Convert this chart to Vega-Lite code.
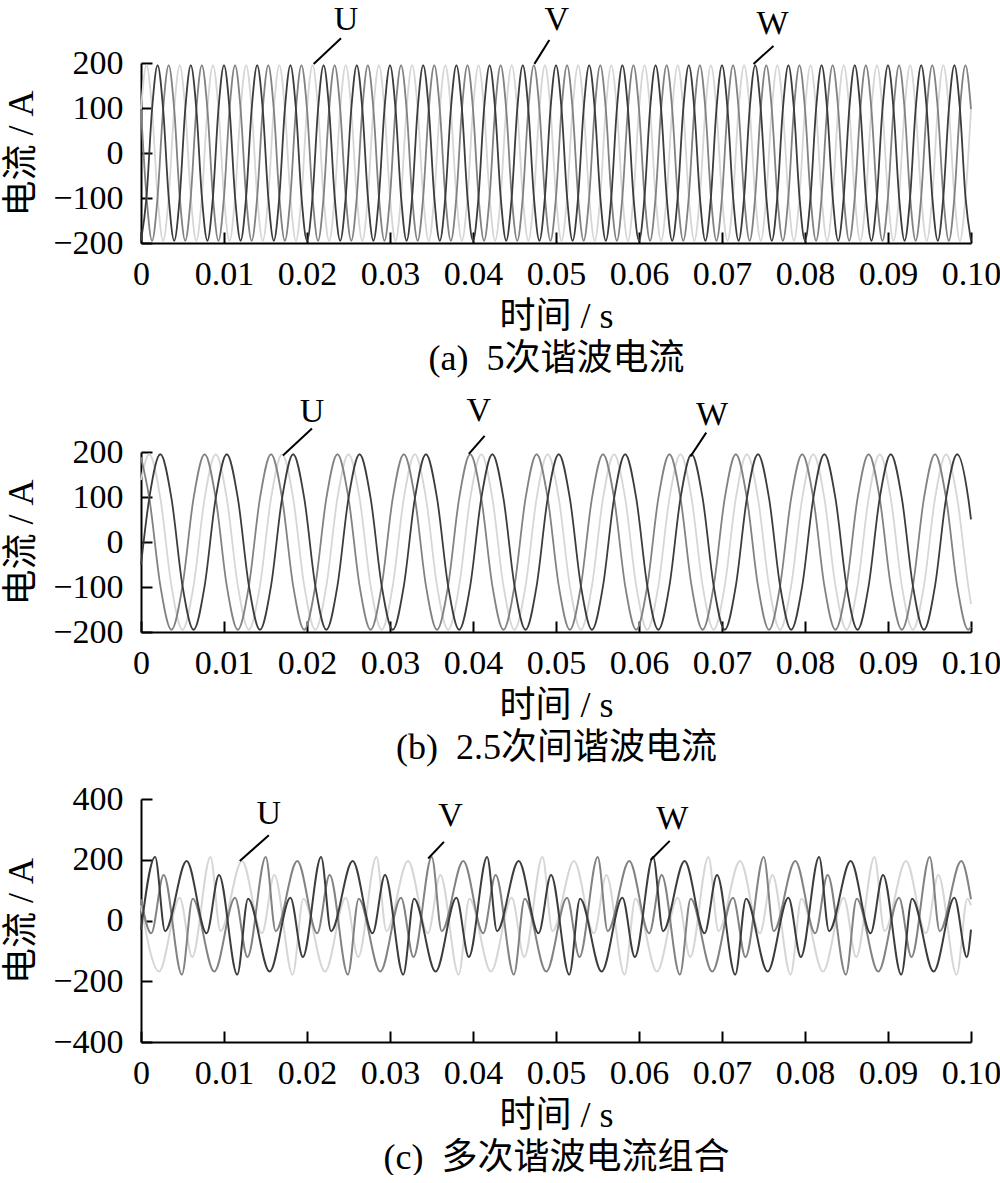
{
"$schema": "https://vega.github.io/schema/vega-lite/v6.json",
"padding": {"left": 3, "top": 2, "right": 0, "bottom": 0},
"background": "white",
"spacing": 17,
"config": {
  "view": {"stroke": null},
  "font": "Liberation Serif",
  "axis": {"grid": false, "domainColor": "black", "domainWidth": 2, "tickColor": "black", "tickWidth": 2, "tickSize": -11,
    "labelFont": "Liberation Serif", "labelFontSize": 34, "labelColor": "black", "labelOverlap": false, "labelFlush": false,
    "titleFont": "Liberation Serif, Noto Sans CJK SC", "titleFontSize": 36, "titleFontWeight": "normal", "titleColor": "black", "titleLineHeight": 42},
  "axisX": {"labelPadding": 25, "titlePadding": 8, "labelAngle": 0},
  "axisY": {"labelPadding": 29, "titlePadding": 12}
},
"vconcat": [
{
  "width": 830, "height": 180,
  "layer": [
    {
      "data": {"values": [
{"t":0,"U":97.5,"V":97.5,"W":-195},{"t":0.000667,"U":195,"V":-97.5,"W":-97.5},{"t":0.001333,"U":97.5,"V":-195,"W":97.5},{"t":0.002,"U":-97.5,"V":-97.5,"W":195},{"t":0.002667,"U":-195,"V":97.5,"W":97.5},{"t":0.003333,"U":-97.5,"V":195,"W":-97.5},
{"t":0.004,"U":97.5,"V":97.5,"W":-195},{"t":0.004667,"U":195,"V":-97.5,"W":-97.5},{"t":0.005333,"U":97.5,"V":-195,"W":97.5},{"t":0.006,"U":-97.5,"V":-97.5,"W":195},{"t":0.006667,"U":-195,"V":97.5,"W":97.5},{"t":0.007333,"U":-97.5,"V":195,"W":-97.5},
{"t":0.008,"U":97.5,"V":97.5,"W":-195},{"t":0.008667,"U":195,"V":-97.5,"W":-97.5},{"t":0.009333,"U":97.5,"V":-195,"W":97.5},{"t":0.01,"U":-97.5,"V":-97.5,"W":195},{"t":0.010667,"U":-195,"V":97.5,"W":97.5},{"t":0.011333,"U":-97.5,"V":195,"W":-97.5},
{"t":0.012,"U":97.5,"V":97.5,"W":-195},{"t":0.012667,"U":195,"V":-97.5,"W":-97.5},{"t":0.013333,"U":97.5,"V":-195,"W":97.5},{"t":0.014,"U":-97.5,"V":-97.5,"W":195},{"t":0.014667,"U":-195,"V":97.5,"W":97.5},{"t":0.015333,"U":-97.5,"V":195,"W":-97.5},
{"t":0.016,"U":97.5,"V":97.5,"W":-195},{"t":0.016667,"U":195,"V":-97.5,"W":-97.5},{"t":0.017333,"U":97.5,"V":-195,"W":97.5},{"t":0.018,"U":-97.5,"V":-97.5,"W":195},{"t":0.018667,"U":-195,"V":97.5,"W":97.5},{"t":0.019333,"U":-97.5,"V":195,"W":-97.5},
{"t":0.02,"U":97.5,"V":97.5,"W":-195},{"t":0.020667,"U":195,"V":-97.5,"W":-97.5},{"t":0.021333,"U":97.5,"V":-195,"W":97.5},{"t":0.022,"U":-97.5,"V":-97.5,"W":195},{"t":0.022667,"U":-195,"V":97.5,"W":97.5},{"t":0.023333,"U":-97.5,"V":195,"W":-97.5},
{"t":0.024,"U":97.5,"V":97.5,"W":-195},{"t":0.024667,"U":195,"V":-97.5,"W":-97.5},{"t":0.025333,"U":97.5,"V":-195,"W":97.5},{"t":0.026,"U":-97.5,"V":-97.5,"W":195},{"t":0.026667,"U":-195,"V":97.5,"W":97.5},{"t":0.027333,"U":-97.5,"V":195,"W":-97.5},
{"t":0.028,"U":97.5,"V":97.5,"W":-195},{"t":0.028667,"U":195,"V":-97.5,"W":-97.5},{"t":0.029333,"U":97.5,"V":-195,"W":97.5},{"t":0.03,"U":-97.5,"V":-97.5,"W":195},{"t":0.030667,"U":-195,"V":97.5,"W":97.5},{"t":0.031333,"U":-97.5,"V":195,"W":-97.5},
{"t":0.032,"U":97.5,"V":97.5,"W":-195},{"t":0.032667,"U":195,"V":-97.5,"W":-97.5},{"t":0.033333,"U":97.5,"V":-195,"W":97.5},{"t":0.034,"U":-97.5,"V":-97.5,"W":195},{"t":0.034667,"U":-195,"V":97.5,"W":97.5},{"t":0.035333,"U":-97.5,"V":195,"W":-97.5},
{"t":0.036,"U":97.5,"V":97.5,"W":-195},{"t":0.036667,"U":195,"V":-97.5,"W":-97.5},{"t":0.037333,"U":97.5,"V":-195,"W":97.5},{"t":0.038,"U":-97.5,"V":-97.5,"W":195},{"t":0.038667,"U":-195,"V":97.5,"W":97.5},{"t":0.039333,"U":-97.5,"V":195,"W":-97.5},
{"t":0.04,"U":97.5,"V":97.5,"W":-195},{"t":0.040667,"U":195,"V":-97.5,"W":-97.5},{"t":0.041333,"U":97.5,"V":-195,"W":97.5},{"t":0.042,"U":-97.5,"V":-97.5,"W":195},{"t":0.042667,"U":-195,"V":97.5,"W":97.5},{"t":0.043333,"U":-97.5,"V":195,"W":-97.5},
{"t":0.044,"U":97.5,"V":97.5,"W":-195},{"t":0.044667,"U":195,"V":-97.5,"W":-97.5},{"t":0.045333,"U":97.5,"V":-195,"W":97.5},{"t":0.046,"U":-97.5,"V":-97.5,"W":195},{"t":0.046667,"U":-195,"V":97.5,"W":97.5},{"t":0.047333,"U":-97.5,"V":195,"W":-97.5},
{"t":0.048,"U":97.5,"V":97.5,"W":-195},{"t":0.048667,"U":195,"V":-97.5,"W":-97.5},{"t":0.049333,"U":97.5,"V":-195,"W":97.5},{"t":0.05,"U":-97.5,"V":-97.5,"W":195},{"t":0.050667,"U":-195,"V":97.5,"W":97.5},{"t":0.051333,"U":-97.5,"V":195,"W":-97.5},
{"t":0.052,"U":97.5,"V":97.5,"W":-195},{"t":0.052667,"U":195,"V":-97.5,"W":-97.5},{"t":0.053333,"U":97.5,"V":-195,"W":97.5},{"t":0.054,"U":-97.5,"V":-97.5,"W":195},{"t":0.054667,"U":-195,"V":97.5,"W":97.5},{"t":0.055333,"U":-97.5,"V":195,"W":-97.5},
{"t":0.056,"U":97.5,"V":97.5,"W":-195},{"t":0.056667,"U":195,"V":-97.5,"W":-97.5},{"t":0.057333,"U":97.5,"V":-195,"W":97.5},{"t":0.058,"U":-97.5,"V":-97.5,"W":195},{"t":0.058667,"U":-195,"V":97.5,"W":97.5},{"t":0.059333,"U":-97.5,"V":195,"W":-97.5},
{"t":0.06,"U":97.5,"V":97.5,"W":-195},{"t":0.060667,"U":195,"V":-97.5,"W":-97.5},{"t":0.061333,"U":97.5,"V":-195,"W":97.5},{"t":0.062,"U":-97.5,"V":-97.5,"W":195},{"t":0.062667,"U":-195,"V":97.5,"W":97.5},{"t":0.063333,"U":-97.5,"V":195,"W":-97.5},
{"t":0.064,"U":97.5,"V":97.5,"W":-195},{"t":0.064667,"U":195,"V":-97.5,"W":-97.5},{"t":0.065333,"U":97.5,"V":-195,"W":97.5},{"t":0.066,"U":-97.5,"V":-97.5,"W":195},{"t":0.066667,"U":-195,"V":97.5,"W":97.5},{"t":0.067333,"U":-97.5,"V":195,"W":-97.5},
{"t":0.068,"U":97.5,"V":97.5,"W":-195},{"t":0.068667,"U":195,"V":-97.5,"W":-97.5},{"t":0.069333,"U":97.5,"V":-195,"W":97.5},{"t":0.07,"U":-97.5,"V":-97.5,"W":195},{"t":0.070667,"U":-195,"V":97.5,"W":97.5},{"t":0.071333,"U":-97.5,"V":195,"W":-97.5},
{"t":0.072,"U":97.5,"V":97.5,"W":-195},{"t":0.072667,"U":195,"V":-97.5,"W":-97.5},{"t":0.073333,"U":97.5,"V":-195,"W":97.5},{"t":0.074,"U":-97.5,"V":-97.5,"W":195},{"t":0.074667,"U":-195,"V":97.5,"W":97.5},{"t":0.075333,"U":-97.5,"V":195,"W":-97.5},
{"t":0.076,"U":97.5,"V":97.5,"W":-195},{"t":0.076667,"U":195,"V":-97.5,"W":-97.5},{"t":0.077333,"U":97.5,"V":-195,"W":97.5},{"t":0.078,"U":-97.5,"V":-97.5,"W":195},{"t":0.078667,"U":-195,"V":97.5,"W":97.5},{"t":0.079333,"U":-97.5,"V":195,"W":-97.5},
{"t":0.08,"U":97.5,"V":97.5,"W":-195},{"t":0.080667,"U":195,"V":-97.5,"W":-97.5},{"t":0.081333,"U":97.5,"V":-195,"W":97.5},{"t":0.082,"U":-97.5,"V":-97.5,"W":195},{"t":0.082667,"U":-195,"V":97.5,"W":97.5},{"t":0.083333,"U":-97.5,"V":195,"W":-97.5},
{"t":0.084,"U":97.5,"V":97.5,"W":-195},{"t":0.084667,"U":195,"V":-97.5,"W":-97.5},{"t":0.085333,"U":97.5,"V":-195,"W":97.5},{"t":0.086,"U":-97.5,"V":-97.5,"W":195},{"t":0.086667,"U":-195,"V":97.5,"W":97.5},{"t":0.087333,"U":-97.5,"V":195,"W":-97.5},
{"t":0.088,"U":97.5,"V":97.5,"W":-195},{"t":0.088667,"U":195,"V":-97.5,"W":-97.5},{"t":0.089333,"U":97.5,"V":-195,"W":97.5},{"t":0.09,"U":-97.5,"V":-97.5,"W":195},{"t":0.090667,"U":-195,"V":97.5,"W":97.5},{"t":0.091333,"U":-97.5,"V":195,"W":-97.5},
{"t":0.092,"U":97.5,"V":97.5,"W":-195},{"t":0.092667,"U":195,"V":-97.5,"W":-97.5},{"t":0.093333,"U":97.5,"V":-195,"W":97.5},{"t":0.094,"U":-97.5,"V":-97.5,"W":195},{"t":0.094667,"U":-195,"V":97.5,"W":97.5},{"t":0.095333,"U":-97.5,"V":195,"W":-97.5},
{"t":0.096,"U":97.5,"V":97.5,"W":-195},{"t":0.096667,"U":195,"V":-97.5,"W":-97.5},{"t":0.097333,"U":97.5,"V":-195,"W":97.5},{"t":0.098,"U":-97.5,"V":-97.5,"W":195},{"t":0.098667,"U":-195,"V":97.5,"W":97.5},{"t":0.099333,"U":-97.5,"V":195,"W":-97.5},
{"t":0.1,"U":97.5,"V":97.5,"W":-195}
      ]},
      "transform": [{"fold": ["U","V","W"], "as": ["p","v"]}],
      "mark": {"type": "line", "interpolate": "monotone", "strokeWidth": 1.8},
      "encoding": {
        "x": {"field": "t", "type": "quantitative", "scale": {"domain": [0, 0.1], "nice": false},
          "axis": {"values": [0,0.01,0.02,0.03,0.04,0.05,0.06,0.07,0.08,0.09,0.1], "labelExpr": "datum.value == 0 ? '0' : format(datum.value, '.2f')", "title": ["时间 / s", "(a)\u00a0 5次谐波电流"]}},
        "y": {"field": "v", "type": "quantitative", "scale": {"domain": [-200, 200], "nice": false},
          "axis": {"values": [-200,-100,0,100,200], "title": "电流 / A"}},
        "color": {"field": "p", "type": "nominal", "scale": {"domain": ["U","V","W"], "range": ["#d6d6d6","#828282","#3c3c3c"]}, "legend": null}
      }
    },
    {
      "data": {"values": [
        {"t1":0.0241,"v1":255,"t2":0.0208,"v2":198},
        {"t1":0.0492,"v1":251,"t2":0.0474,"v2":198},
        {"t1":0.0762,"v1":238,"t2":0.0738,"v2":198}
      ]},
      "mark": {"type": "rule", "strokeWidth": 2, "color": "black"},
      "encoding": {
        "x": {"field": "t1", "type": "quantitative", "scale": {"domain": [0, 0.1], "nice": false}},
        "y": {"field": "v1", "type": "quantitative", "scale": {"domain": [-200, 200], "nice": false}},
        "x2": {"field": "t2"}, "y2": {"field": "v2"}
      }
    },
    {
      "data": {"values": [
        {"t":0.0247,"v":296,"label":"U"},
        {"t":0.0501,"v":295,"label":"V"},
        {"t":0.0761,"v":286,"label":"W"}
      ]},
      "mark": {"type": "text", "fontSize": 34, "font": "Liberation Serif", "color": "black", "align": "center", "baseline": "middle"},
      "encoding": {
        "x": {"field": "t", "type": "quantitative", "scale": {"domain": [0, 0.1], "nice": false}},
        "y": {"field": "v", "type": "quantitative", "scale": {"domain": [-200, 200], "nice": false}},
        "text": {"field": "label"}
      }
    }
  ]
},
{
  "width": 830, "height": 180,
  "layer": [
    {
      "data": {"values": [
{"t":0,"U":137.9,"V":188.4,"W":-50.5},
{"t":0.001,"U":195,"V":97.5,"W":97.5},{"t":0.002333,"U":97.5,"V":-97.5,"W":195},{"t":0.003667,"U":-97.5,"V":-195,"W":97.5},{"t":0.005,"U":-195,"V":-97.5,"W":-97.5},{"t":0.006333,"U":-97.5,"V":97.5,"W":-195},{"t":0.007667,"U":97.5,"V":195,"W":-97.5},
{"t":0.009,"U":195,"V":97.5,"W":97.5},{"t":0.010333,"U":97.5,"V":-97.5,"W":195},{"t":0.011667,"U":-97.5,"V":-195,"W":97.5},{"t":0.013,"U":-195,"V":-97.5,"W":-97.5},{"t":0.014333,"U":-97.5,"V":97.5,"W":-195},{"t":0.015667,"U":97.5,"V":195,"W":-97.5},
{"t":0.017,"U":195,"V":97.5,"W":97.5},{"t":0.018333,"U":97.5,"V":-97.5,"W":195},{"t":0.019667,"U":-97.5,"V":-195,"W":97.5},{"t":0.021,"U":-195,"V":-97.5,"W":-97.5},{"t":0.022333,"U":-97.5,"V":97.5,"W":-195},{"t":0.023667,"U":97.5,"V":195,"W":-97.5},
{"t":0.025,"U":195,"V":97.5,"W":97.5},{"t":0.026333,"U":97.5,"V":-97.5,"W":195},{"t":0.027667,"U":-97.5,"V":-195,"W":97.5},{"t":0.029,"U":-195,"V":-97.5,"W":-97.5},{"t":0.030333,"U":-97.5,"V":97.5,"W":-195},{"t":0.031667,"U":97.5,"V":195,"W":-97.5},
{"t":0.033,"U":195,"V":97.5,"W":97.5},{"t":0.034333,"U":97.5,"V":-97.5,"W":195},{"t":0.035667,"U":-97.5,"V":-195,"W":97.5},{"t":0.037,"U":-195,"V":-97.5,"W":-97.5},{"t":0.038333,"U":-97.5,"V":97.5,"W":-195},{"t":0.039667,"U":97.5,"V":195,"W":-97.5},
{"t":0.041,"U":195,"V":97.5,"W":97.5},{"t":0.042333,"U":97.5,"V":-97.5,"W":195},{"t":0.043667,"U":-97.5,"V":-195,"W":97.5},{"t":0.045,"U":-195,"V":-97.5,"W":-97.5},{"t":0.046333,"U":-97.5,"V":97.5,"W":-195},{"t":0.047667,"U":97.5,"V":195,"W":-97.5},
{"t":0.049,"U":195,"V":97.5,"W":97.5},{"t":0.050333,"U":97.5,"V":-97.5,"W":195},{"t":0.051667,"U":-97.5,"V":-195,"W":97.5},{"t":0.053,"U":-195,"V":-97.5,"W":-97.5},{"t":0.054333,"U":-97.5,"V":97.5,"W":-195},{"t":0.055667,"U":97.5,"V":195,"W":-97.5},
{"t":0.057,"U":195,"V":97.5,"W":97.5},{"t":0.058333,"U":97.5,"V":-97.5,"W":195},{"t":0.059667,"U":-97.5,"V":-195,"W":97.5},{"t":0.061,"U":-195,"V":-97.5,"W":-97.5},{"t":0.062333,"U":-97.5,"V":97.5,"W":-195},{"t":0.063667,"U":97.5,"V":195,"W":-97.5},
{"t":0.065,"U":195,"V":97.5,"W":97.5},{"t":0.066333,"U":97.5,"V":-97.5,"W":195},{"t":0.067667,"U":-97.5,"V":-195,"W":97.5},{"t":0.069,"U":-195,"V":-97.5,"W":-97.5},{"t":0.070333,"U":-97.5,"V":97.5,"W":-195},{"t":0.071667,"U":97.5,"V":195,"W":-97.5},
{"t":0.073,"U":195,"V":97.5,"W":97.5},{"t":0.074333,"U":97.5,"V":-97.5,"W":195},{"t":0.075667,"U":-97.5,"V":-195,"W":97.5},{"t":0.077,"U":-195,"V":-97.5,"W":-97.5},{"t":0.078333,"U":-97.5,"V":97.5,"W":-195},{"t":0.079667,"U":97.5,"V":195,"W":-97.5},
{"t":0.081,"U":195,"V":97.5,"W":97.5},{"t":0.082333,"U":97.5,"V":-97.5,"W":195},{"t":0.083667,"U":-97.5,"V":-195,"W":97.5},{"t":0.085,"U":-195,"V":-97.5,"W":-97.5},{"t":0.086333,"U":-97.5,"V":97.5,"W":-195},{"t":0.087667,"U":97.5,"V":195,"W":-97.5},
{"t":0.089,"U":195,"V":97.5,"W":97.5},{"t":0.090333,"U":97.5,"V":-97.5,"W":195},{"t":0.091667,"U":-97.5,"V":-195,"W":97.5},{"t":0.093,"U":-195,"V":-97.5,"W":-97.5},{"t":0.094333,"U":-97.5,"V":97.5,"W":-195},{"t":0.095667,"U":97.5,"V":195,"W":-97.5},
{"t":0.097,"U":195,"V":97.5,"W":97.5},{"t":0.098333,"U":97.5,"V":-97.5,"W":195},{"t":0.099667,"U":-97.5,"V":-195,"W":97.5},
{"t":0.1,"U":-137.9,"V":-188.4,"W":50.5}
      ]},
      "transform": [{"fold": ["U","V","W"], "as": ["p","v"]}],
      "mark": {"type": "line", "interpolate": "monotone", "strokeWidth": 1.8},
      "encoding": {
        "x": {"field": "t", "type": "quantitative", "scale": {"domain": [0, 0.1], "nice": false},
          "axis": {"values": [0,0.01,0.02,0.03,0.04,0.05,0.06,0.07,0.08,0.09,0.1], "labelExpr": "datum.value == 0 ? '0' : format(datum.value, '.2f')", "title": ["时间 / s", "(b)\u00a0 2.5次间谐波电流"]}},
        "y": {"field": "v", "type": "quantitative", "scale": {"domain": [-200, 200], "nice": false},
          "axis": {"values": [-200,-100,0,100,200], "title": "电流 / A"}},
        "color": {"field": "p", "type": "nominal", "scale": {"domain": ["U","V","W"], "range": ["#d6d6d6","#828282","#3c3c3c"]}, "legend": null}
      }
    },
    {
      "data": {"values": [
        {"t1":0.0206,"v1":252,"t2":0.0171,"v2":192},
        {"t1":0.0414,"v1":236,"t2":0.0395,"v2":196},
        {"t1":0.0681,"v1":243,"t2":0.0662,"v2":190}
      ]},
      "mark": {"type": "rule", "strokeWidth": 2, "color": "black"},
      "encoding": {
        "x": {"field": "t1", "type": "quantitative", "scale": {"domain": [0, 0.1], "nice": false}},
        "y": {"field": "v1", "type": "quantitative", "scale": {"domain": [-200, 200], "nice": false}},
        "x2": {"field": "t2"}, "y2": {"field": "v2"}
      }
    },
    {
      "data": {"values": [
        {"t":0.0206,"v":289,"label":"U"},
        {"t":0.0407,"v":292,"label":"V"},
        {"t":0.0688,"v":283,"label":"W"}
      ]},
      "mark": {"type": "text", "fontSize": 34, "font": "Liberation Serif", "color": "black", "align": "center", "baseline": "middle"},
      "encoding": {
        "x": {"field": "t", "type": "quantitative", "scale": {"domain": [0, 0.1], "nice": false}},
        "y": {"field": "v", "type": "quantitative", "scale": {"domain": [-200, 200], "nice": false}},
        "text": {"field": "label"}
      }
    }
  ]
},
{
  "width": 830, "height": 243,
  "layer": [
    {
      "data": {"values": [
{"p":"U","t":0,"v":50},
{"p":"U","t":0.00217,"v":-168},{"p":"U","t":0.00467,"v":75},{"p":"U","t":0.00617,"v":-120},{"p":"U","t":0.00837,"v":209},{"p":"U","t":0.00957,"v":-35},{"p":"U","t":0.01217,"v":196},{"p":"U","t":0.01457,"v":-42},{"p":"U","t":0.01607,"v":150},{"p":"U","t":0.01827,"v":-178},{"p":"U","t":0.01957,"v":72},
{"p":"U","t":0.02217,"v":-168},{"p":"U","t":0.02467,"v":75},{"p":"U","t":0.02617,"v":-120},{"p":"U","t":0.02837,"v":209},{"p":"U","t":0.02957,"v":-35},{"p":"U","t":0.03217,"v":196},{"p":"U","t":0.03457,"v":-42},{"p":"U","t":0.03607,"v":150},{"p":"U","t":0.03827,"v":-178},{"p":"U","t":0.03957,"v":72},
{"p":"U","t":0.04217,"v":-168},{"p":"U","t":0.04467,"v":75},{"p":"U","t":0.04617,"v":-120},{"p":"U","t":0.04837,"v":209},{"p":"U","t":0.04957,"v":-35},{"p":"U","t":0.05217,"v":196},{"p":"U","t":0.05457,"v":-42},{"p":"U","t":0.05607,"v":150},{"p":"U","t":0.05827,"v":-178},{"p":"U","t":0.05957,"v":72},
{"p":"U","t":0.06217,"v":-168},{"p":"U","t":0.06467,"v":75},{"p":"U","t":0.06617,"v":-120},{"p":"U","t":0.06837,"v":209},{"p":"U","t":0.06957,"v":-35},{"p":"U","t":0.07217,"v":196},{"p":"U","t":0.07457,"v":-42},{"p":"U","t":0.07607,"v":150},{"p":"U","t":0.07827,"v":-178},{"p":"U","t":0.07957,"v":72},
{"p":"U","t":0.08217,"v":-168},{"p":"U","t":0.08467,"v":75},{"p":"U","t":0.08617,"v":-120},{"p":"U","t":0.08837,"v":209},{"p":"U","t":0.08957,"v":-35},{"p":"U","t":0.09217,"v":196},{"p":"U","t":0.09457,"v":-42},{"p":"U","t":0.09607,"v":150},{"p":"U","t":0.09827,"v":-178},{"p":"U","t":0.09957,"v":72},
{"p":"U","t":0.1,"v":50},
{"p":"V","t":0,"v":70},
{"p":"V","t":0.00123,"v":-42},{"p":"V","t":0.00273,"v":150},{"p":"V","t":0.00493,"v":-178},{"p":"V","t":0.00623,"v":72},{"p":"V","t":0.00883,"v":-168},{"p":"V","t":0.01133,"v":75},{"p":"V","t":0.01283,"v":-120},{"p":"V","t":0.01503,"v":209},{"p":"V","t":0.01623,"v":-35},{"p":"V","t":0.01883,"v":196},
{"p":"V","t":0.02123,"v":-42},{"p":"V","t":0.02273,"v":150},{"p":"V","t":0.02493,"v":-178},{"p":"V","t":0.02623,"v":72},{"p":"V","t":0.02883,"v":-168},{"p":"V","t":0.03133,"v":75},{"p":"V","t":0.03283,"v":-120},{"p":"V","t":0.03503,"v":209},{"p":"V","t":0.03623,"v":-35},{"p":"V","t":0.03883,"v":196},
{"p":"V","t":0.04123,"v":-42},{"p":"V","t":0.04273,"v":150},{"p":"V","t":0.04493,"v":-178},{"p":"V","t":0.04623,"v":72},{"p":"V","t":0.04883,"v":-168},{"p":"V","t":0.05133,"v":75},{"p":"V","t":0.05283,"v":-120},{"p":"V","t":0.05503,"v":209},{"p":"V","t":0.05623,"v":-35},{"p":"V","t":0.05883,"v":196},
{"p":"V","t":0.06123,"v":-42},{"p":"V","t":0.06273,"v":150},{"p":"V","t":0.06493,"v":-178},{"p":"V","t":0.06623,"v":72},{"p":"V","t":0.06883,"v":-168},{"p":"V","t":0.07133,"v":75},{"p":"V","t":0.07283,"v":-120},{"p":"V","t":0.07503,"v":209},{"p":"V","t":0.07623,"v":-35},{"p":"V","t":0.07883,"v":196},
{"p":"V","t":0.08123,"v":-42},{"p":"V","t":0.08273,"v":150},{"p":"V","t":0.08493,"v":-178},{"p":"V","t":0.08623,"v":72},{"p":"V","t":0.08883,"v":-168},{"p":"V","t":0.09133,"v":75},{"p":"V","t":0.09283,"v":-120},{"p":"V","t":0.09503,"v":209},{"p":"V","t":0.09623,"v":-35},{"p":"V","t":0.09883,"v":196},
{"p":"V","t":0.1,"v":70},
{"p":"W","t":0,"v":-30},
{"p":"W","t":0.0017,"v":209},{"p":"W","t":0.0029,"v":-35},{"p":"W","t":0.0055,"v":196},{"p":"W","t":0.0079,"v":-42},{"p":"W","t":0.0094,"v":150},{"p":"W","t":0.0116,"v":-178},{"p":"W","t":0.0129,"v":72},{"p":"W","t":0.0155,"v":-168},{"p":"W","t":0.018,"v":75},{"p":"W","t":0.0195,"v":-120},
{"p":"W","t":0.0217,"v":209},{"p":"W","t":0.0229,"v":-35},{"p":"W","t":0.0255,"v":196},{"p":"W","t":0.0279,"v":-42},{"p":"W","t":0.0294,"v":150},{"p":"W","t":0.0316,"v":-178},{"p":"W","t":0.0329,"v":72},{"p":"W","t":0.0355,"v":-168},{"p":"W","t":0.038,"v":75},{"p":"W","t":0.0395,"v":-120},
{"p":"W","t":0.0417,"v":209},{"p":"W","t":0.0429,"v":-35},{"p":"W","t":0.0455,"v":196},{"p":"W","t":0.0479,"v":-42},{"p":"W","t":0.0494,"v":150},{"p":"W","t":0.0516,"v":-178},{"p":"W","t":0.0529,"v":72},{"p":"W","t":0.0555,"v":-168},{"p":"W","t":0.058,"v":75},{"p":"W","t":0.0595,"v":-120},
{"p":"W","t":0.0617,"v":209},{"p":"W","t":0.0629,"v":-35},{"p":"W","t":0.0655,"v":196},{"p":"W","t":0.0679,"v":-42},{"p":"W","t":0.0694,"v":150},{"p":"W","t":0.0716,"v":-178},{"p":"W","t":0.0729,"v":72},{"p":"W","t":0.0755,"v":-168},{"p":"W","t":0.078,"v":75},{"p":"W","t":0.0795,"v":-120},
{"p":"W","t":0.0817,"v":209},{"p":"W","t":0.0829,"v":-35},{"p":"W","t":0.0855,"v":196},{"p":"W","t":0.0879,"v":-42},{"p":"W","t":0.0894,"v":150},{"p":"W","t":0.0916,"v":-178},{"p":"W","t":0.0929,"v":72},{"p":"W","t":0.0955,"v":-168},{"p":"W","t":0.098,"v":75},{"p":"W","t":0.0995,"v":-120},
{"p":"W","t":0.1,"v":-30}
      ]},
      "mark": {"type": "line", "interpolate": "monotone", "strokeWidth": 2},
      "encoding": {
        "x": {"field": "t", "type": "quantitative", "scale": {"domain": [0, 0.1], "nice": false},
          "axis": {"values": [0,0.01,0.02,0.03,0.04,0.05,0.06,0.07,0.08,0.09,0.1], "labelExpr": "datum.value == 0 ? '0' : format(datum.value, '.2f')", "title": ["时间 / s", "(c)\u00a0 多次谐波电流组合"]}},
        "y": {"field": "v", "type": "quantitative", "scale": {"domain": [-400, 400], "nice": false},
          "axis": {"values": [-400,-200,0,200,400], "title": "电流 / A"}},
        "color": {"field": "p", "type": "nominal", "scale": {"domain": ["U","V","W"], "range": ["#dcdcdc","#828282","#3c3c3c"]}, "legend": null}
      }
    },
    {
      "data": {"values": [
        {"t1":0.0154,"v1":281,"t2":0.0119,"v2":196},
        {"t1":0.0365,"v1":259,"t2":0.0346,"v2":204},
        {"t1":0.0637,"v1":262,"t2":0.0614,"v2":199}
      ]},
      "mark": {"type": "rule", "strokeWidth": 2, "color": "black"},
      "encoding": {
        "x": {"field": "t1", "type": "quantitative", "scale": {"domain": [0, 0.1], "nice": false}},
        "y": {"field": "v1", "type": "quantitative", "scale": {"domain": [-400, 400], "nice": false}},
        "x2": {"field": "t2"}, "y2": {"field": "v2"}
      }
    },
    {
      "data": {"values": [
        {"t":0.0154,"v":350,"label":"U"},
        {"t":0.0373,"v":345,"label":"V"},
        {"t":0.064,"v":334,"label":"W"}
      ]},
      "mark": {"type": "text", "fontSize": 34, "font": "Liberation Serif", "color": "black", "align": "center", "baseline": "middle"},
      "encoding": {
        "x": {"field": "t", "type": "quantitative", "scale": {"domain": [0, 0.1], "nice": false}},
        "y": {"field": "v", "type": "quantitative", "scale": {"domain": [-400, 400], "nice": false}},
        "text": {"field": "label"}
      }
    }
  ]
}
]
}
